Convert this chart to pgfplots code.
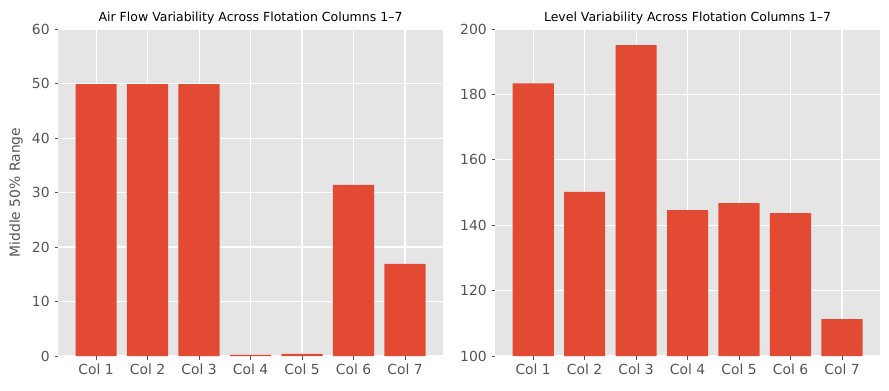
\documentclass[border=0pt]{standalone}
\usepackage{fontspec}
\setmainfont{DejaVu Sans}
\usepackage{pgfplots}
\pgfplotsset{compat=1.18}
\definecolor{barred}{HTML}{E24A33}
\definecolor{bg}{HTML}{E5E5E5}
\definecolor{tickgray}{HTML}{555555}
\pgfplotsset{myaxis/.style={
  scale only axis, width=277.2pt, height=235.4pt,
  xmin=-0.74, xmax=6.74,
  axis background/.style={fill=bg},
  axis line style={draw=none},
  grid=major, major grid style={white, line width=0.8pt},
  xtick={0,...,6},
  xticklabels={Col 1,Col 2,Col 3,Col 4,Col 5,Col 6,Col 7},
  tick style={tickgray, line width=0.6pt},
  tick align=outside, major tick length=2.5pt,
  tick pos=left,
  tick label style={font=\fontsize{10}{11}\selectfont, text=tickgray},
  /pgf/number format/assume math mode=true,
  ybar, bar width=0.8,
  title style={font=\fontsize{9}{10}\selectfont, at={(0.5,1)}, anchor=base, yshift=-0.5pt},
  label style={font=\fontsize{10}{11}\selectfont, text=tickgray},
}}
\begin{document}
\begin{tikzpicture}
\path[use as bounding box] (0,0) rectangle (640pt,280.8pt);
\begin{axis}[myaxis, at={(41.76pt,24.48pt)}, anchor=south west,
  ymin=0, ymax=60, ytick={0,10,...,60},
  ylabel={Middle 50\% Range},
  ylabel style={at={(axis description cs:-0.1093,0.5)}, anchor=center},
  title={Air Flow Variability Across Flotation Columns 1–7}]
\addplot[fill=barred, draw=none] coordinates {(0,49.9) (1,49.9) (2,49.9) (3,0.2) (4,0.4) (5,31.4) (6,16.9)};
\end{axis}
\begin{axis}[myaxis, at={(356.4pt,24.48pt)}, anchor=south west,
  ymin=100, ymax=200, ytick={100,120,...,200},
  title={Level Variability Across Flotation Columns 1–7}]
\addplot[fill=barred, draw=none] coordinates {(0,183.4) (1,150.2) (2,195.1) (3,144.6) (4,146.8) (5,143.7) (6,111.3)};
\end{axis}
\end{tikzpicture}
\end{document}
